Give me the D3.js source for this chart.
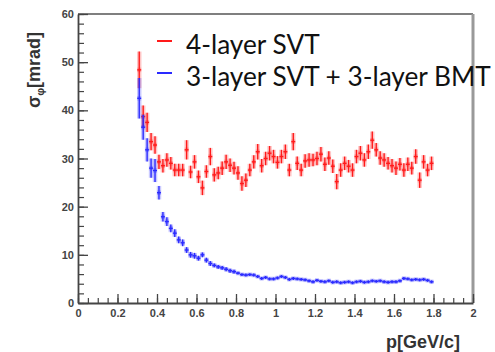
<!DOCTYPE html>
<html>
<head>
<meta charset="utf-8">
<script src="https://cdn.jsdelivr.net/npm/d3@7"></script>
<style>
  html, body { margin: 0; padding: 0; background: #fff; }
  svg { display: block; }
</style>
</head>
<body>
<div id="chart"></div>
<script>
// momentum bin centres [GeV/c]
const pBins = [
  0.31, 0.33, 0.35, 0.37, 0.39, 0.41, 0.43, 0.45, 0.47, 0.49,
  0.51, 0.53, 0.55, 0.57, 0.59, 0.61, 0.63, 0.65, 0.67, 0.69,
  0.71, 0.73, 0.75, 0.77, 0.79, 0.81, 0.83, 0.85, 0.87, 0.89,
  0.91, 0.93, 0.95, 0.97, 0.99, 1.01, 1.03, 1.05, 1.07, 1.09,
  1.11, 1.13, 1.15, 1.17, 1.19, 1.21, 1.23, 1.25, 1.27, 1.29,
  1.31, 1.33, 1.35, 1.37, 1.39, 1.41, 1.43, 1.45, 1.47, 1.49,
  1.51, 1.53, 1.55, 1.57, 1.59, 1.61, 1.63, 1.65, 1.67, 1.69,
  1.71, 1.73, 1.75, 1.77, 1.79
];
const binWidth = 0.02;

// 4-layer SVT
const svtValues = [
  48.4, 38.7, 37.5, 33.5, 32.8, 29.3, 28.5, 29.7, 29.0, 27.6,
  27.6, 27.6, 31.8, 27.2, 29.3, 26.2, 23.9, 27.3, 30.4, 26.6,
  27.0, 28.0, 29.3, 28.6, 28.0, 27.0, 24.8, 25.5, 27.6, 29.3,
  31.4, 28.5, 30.0, 31.1, 30.4, 29.2, 30.4, 31.4, 27.6, 33.5,
  29.0, 27.6, 29.5, 29.7, 29.7, 30.0, 30.9, 28.8, 30.1, 28.4,
  25.2, 27.6, 29.0, 28.4, 27.6, 30.4, 31.1, 29.7, 31.4, 33.8,
  31.8, 30.1, 29.7, 29.0, 28.5, 28.0, 28.8, 27.6, 28.8, 28.0,
  30.4, 25.5, 29.3, 27.6, 29.0
];
const svtErrors = [
  3.8, 2.3, 2.0, 1.8, 1.8, 1.5, 1.4, 1.4, 1.3, 1.3,
  1.3, 1.3, 2.0, 1.3, 1.4, 1.3, 1.5, 1.3, 1.8, 1.4,
  1.3, 1.4, 1.5, 1.4, 1.3, 1.4, 1.5, 1.4, 1.3, 1.4,
  1.6, 1.4, 1.4, 1.5, 1.4, 1.3, 1.4, 1.5, 1.3, 1.8,
  1.4, 1.3, 1.4, 1.4, 1.3, 1.4, 1.5, 1.4, 1.4, 1.4,
  1.6, 1.4, 1.4, 1.3, 1.4, 1.4, 1.5, 1.4, 1.5, 1.8,
  1.4, 1.4, 1.4, 1.3, 1.4, 1.4, 1.3, 1.4, 1.4, 1.3,
  1.5, 1.6, 1.4, 1.3, 1.4
];

// 3-layer SVT + 3-layer BMT
const bmtValues = [
  42.5, 36.5, 31.8, 28.0, 27.5, 22.9, 17.9, 16.9, 15.5, 14.5,
  13.1, 12.5, 11.0, 10.0, 9.8, 9.3, 10.0, 8.9, 8.2, 7.8,
  7.5, 7.3, 7.0, 6.7, 6.5, 6.2, 5.9, 5.8, 5.9, 5.8,
  5.5, 5.1, 5.3, 5.0, 5.0, 5.2, 5.5, 5.3, 4.9, 5.1,
  5.0, 4.9, 4.8, 4.6, 4.4, 4.7, 4.5, 4.4, 4.6, 4.3,
  4.4, 4.2, 4.3, 4.4, 4.2, 4.4, 4.5, 4.3, 4.4, 4.6,
  4.5, 4.6, 4.4, 4.3, 4.4, 4.4, 4.6, 5.1, 5.0, 4.8,
  4.9, 4.8, 4.9, 4.7, 4.4
];
const bmtErrors = [
  4.2, 2.6, 2.4, 2.0, 2.4, 1.4, 1.0, 0.9, 0.8, 0.8,
  0.7, 0.7, 0.6, 0.6, 0.6, 0.5, 0.5, 0.5, 0.5, 0.4,
  0.4, 0.4, 0.4, 0.4, 0.4, 0.3, 0.3, 0.3, 0.3, 0.3,
  0.3, 0.3, 0.3, 0.3, 0.3, 0.3, 0.3, 0.3, 0.3, 0.3,
  0.3, 0.3, 0.3, 0.3, 0.3, 0.3, 0.3, 0.3, 0.3, 0.3,
  0.3, 0.3, 0.3, 0.3, 0.3, 0.3, 0.3, 0.3, 0.3, 0.3,
  0.3, 0.3, 0.3, 0.3, 0.3, 0.3, 0.3, 0.3, 0.3, 0.3,
  0.3, 0.3, 0.3, 0.3, 0.3
];

const xMajorTicks = [0, 0.2, 0.4, 0.6, 0.8, 1, 1.2, 1.4, 1.6, 1.8, 2];
const xTickLabels = ['0', '0.2', '0.4', '0.6', '0.8', '1', '1.2', '1.4', '1.6', '1.8', '2'];
const yMajorTicks = [0, 10, 20, 30, 40, 50, 60];
const yTickLabels = ['0', '10', '20', '30', '40', '50', '60'];

const legendLabels = ['4-layer SVT', '3-layer SVT + 3-layer BMT'];
const seriesColors = ['#ff1a1a', '#2a2aff'];

const width = 495;
const height = 352;
const plot = { left: 78, right: 473, top: 14, bottom: 303 };

const svg = d3.select('#chart')
  .append('svg')
  .attr('width', width)
  .attr('height', height);

const x = d3.scaleLinear().domain([0, 2]).range([plot.left, plot.right]);
const y = d3.scaleLinear().domain([0, 60]).range([plot.bottom, plot.top]);

// frame (top + right)
svg.append('line')
  .attr('x1', plot.left).attr('x2', plot.right)
  .attr('y1', plot.top).attr('y2', plot.top)
  .attr('stroke', '#555').attr('stroke-width', 1.5);
svg.append('line')
  .attr('x1', plot.right).attr('x2', plot.right)
  .attr('y1', plot.top).attr('y2', plot.bottom)
  .attr('stroke', '#999').attr('stroke-width', 3);

const tickFont = g => g
  .attr('font-family', '"Liberation Sans", Arial, sans-serif')
  .attr('font-size', 11)
  .attr('font-weight', 'bold');

// minor ticks
svg.append('g')
  .attr('transform', `translate(${plot.left},0)`)
  .call(d3.axisLeft(y).tickValues(d3.range(0, 61, 2)).tickSize(-6).tickSizeOuter(0).tickFormat(''))
  .call(g => g.select('.domain').remove())
  .call(g => g.selectAll('line').attr('stroke', '#444').attr('stroke-width', 1.2));
svg.append('g')
  .attr('transform', `translate(0,${plot.bottom})`)
  .call(d3.axisBottom(x).tickValues(d3.range(0, 41).map(i => i * 0.05)).tickSize(-5).tickSizeOuter(0).tickFormat(''))
  .call(g => g.select('.domain').remove())
  .call(g => g.selectAll('line').attr('stroke', '#444').attr('stroke-width', 1.2));

// major ticks with labels
svg.append('g')
  .attr('transform', `translate(${plot.left},0)`)
  .call(d3.axisLeft(y).tickValues(yMajorTicks).tickSize(-10).tickSizeOuter(0).tickPadding(4)
    .tickFormat((d, i) => yTickLabels[i]))
  .call(tickFont)
  .call(g => g.select('.domain').attr('stroke', '#444').attr('stroke-width', 1.8))
  .call(g => g.selectAll('line').attr('stroke', '#444').attr('stroke-width', 1.3))
  .call(g => g.selectAll('text').attr('fill', '#444'));
svg.append('g')
  .attr('transform', `translate(0,${plot.bottom})`)
  .call(d3.axisBottom(x).tickValues(xMajorTicks).tickSize(-9).tickSizeOuter(0).tickPadding(6)
    .tickFormat((d, i) => xTickLabels[i]))
  .call(tickFont)
  .call(g => g.select('.domain').attr('stroke', '#444').attr('stroke-width', 1.8))
  .call(g => g.selectAll('line').attr('stroke', '#444').attr('stroke-width', 1.3))
  .call(g => g.selectAll('text').attr('fill', '#444'));

// axis titles
const yTitle = svg.append('text')
  .attr('transform', 'translate(40,70) rotate(-90)')
  .attr('text-anchor', 'middle')
  .attr('font-family', '"Liberation Sans", Arial, sans-serif')
  .attr('font-weight', 'bold')
  .attr('font-size', 18)
  .attr('fill', '#333');
yTitle.append('tspan').text('σ');
yTitle.append('tspan').attr('font-size', 11).attr('dy', 4).text('φ');
yTitle.append('tspan').attr('dy', -4).text('[mrad]');

svg.append('text')
  .attr('x', 460).attr('y', 348)
  .attr('text-anchor', 'end')
  .attr('font-family', '"Liberation Sans", Arial, sans-serif')
  .attr('font-weight', 'bold')
  .attr('font-size', 18)
  .attr('fill', '#333')
  .text('p[GeV/c]');

// error-bar series
const series = [
  { values: svtValues, errors: svtErrors, color: seriesColors[0] },
  { values: bmtValues, errors: bmtErrors, color: seriesColors[1] }
];

series.forEach(s => {
  const pts = pBins.map((p, i) => ({ p, v: s.values[i], e: s.errors[i] }));
  const g = svg.append('g');
  // soft halo, like the blurred original
  [{ w: 4.5, o: 0.25 }, { w: 1.4, o: 1 }].forEach(st => {
    g.selectAll(null).data(pts).enter().append('line')
      .attr('x1', d => x(d.p)).attr('x2', d => x(d.p))
      .attr('y1', d => y(d.v - d.e)).attr('y2', d => y(d.v + d.e))
      .attr('stroke', s.color).attr('stroke-width', st.w).attr('stroke-opacity', st.o);
    g.selectAll(null).data(pts).enter().append('line')
      .attr('x1', d => x(d.p - binWidth / 2)).attr('x2', d => x(d.p + binWidth / 2))
      .attr('y1', d => y(d.v)).attr('y2', d => y(d.v))
      .attr('stroke', s.color).attr('stroke-width', st.w).attr('stroke-opacity', st.o);
  });
});

// legend
const legend = svg.append('g');
const legendFont = '"Lato", "Open Sans", sans-serif';
legendLabels.forEach((label, i) => {
  const baseY = 54 + i * 32;
  legend.append('line')
    .attr('x1', 157).attr('x2', 172)
    .attr('y1', baseY - 13).attr('y2', baseY - 13)
    .attr('stroke', seriesColors[i]).attr('stroke-width', 2);
  legend.append('text')
    .attr('class', 'legend-text')
    .attr('x', 186).attr('y', baseY)
    .attr('font-family', legendFont)
    .attr('font-size', 24)
    .attr('fill', '#111')
    .text(label);
});
// fit the long label to the width seen in the picture
const longText = legend.selectAll('.legend-text').nodes()[1];
const fitSize = 24 * 305 / longText.getComputedTextLength();
legend.selectAll('.legend-text').attr('font-size', fitSize);
</script>
</body>
</html>
